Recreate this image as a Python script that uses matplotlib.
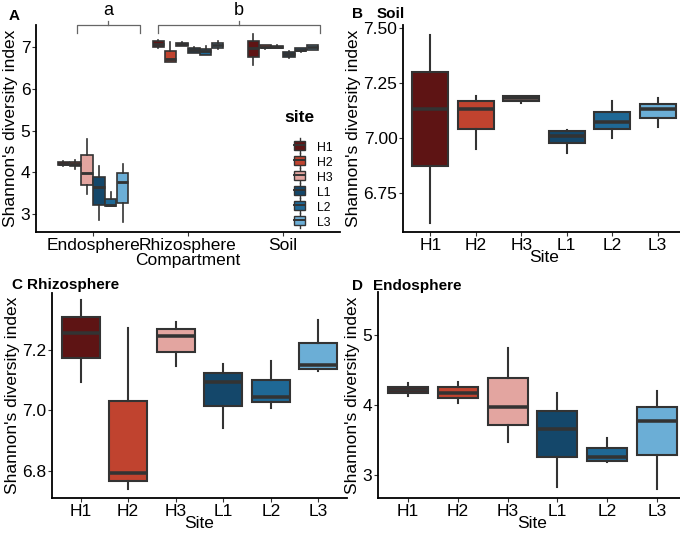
import matplotlib
matplotlib.use("Agg")
import matplotlib.pyplot as plt
from matplotlib.legend_handler import HandlerBase
from matplotlib.lines import Line2D
from matplotlib.patches import Rectangle, Patch

plt.rcParams['font.family'] = ['Liberation Sans', 'DejaVu Sans']

# -----------------------------
# data: box stats per site  (whisker low, q1, median, q3, whisker high)
# -----------------------------
sites = ["H1", "H2", "H3", "L1", "L2", "L3"]
site_colors = ["#5E1414", "#C0432F", "#E3A5A0", "#14476A", "#1F6895", "#6BAED6"]
compartments = ["Endosphere", "Rhizosphere", "Soil"]

# panel A (all compartments)
a_endo = [[4.15, 4.18, 4.21, 4.25, 4.28],
          [4.08, 4.15, 4.20, 4.25, 4.30],
          [3.48, 3.69, 3.98, 4.41, 4.80],
          [2.86, 3.22, 3.65, 3.89, 4.15],
          [3.19, 3.19, 3.22, 3.36, 3.53],
          [2.81, 3.26, 3.77, 3.98, 4.19]]
a_rhizo = [[6.97, 7.01, 7.08, 7.15, 7.17],
           [6.64, 6.65, 6.72, 6.91, 7.13],
           [7.02, 7.03, 7.07, 7.11, 7.12],
           [6.85, 6.87, 6.93, 6.99, 7.00],
           [6.80, 6.82, 6.90, 6.95, 7.02],
           [6.96, 6.97, 7.04, 7.10, 7.14]]
a_soil = [[6.57, 6.77, 6.97, 7.15, 7.31],
          [6.95, 6.97, 7.00, 7.05, 7.06],
          [6.97, 6.98, 7.00, 7.03, 7.04],
          [6.73, 6.77, 6.83, 6.89, 6.90],
          [6.89, 6.90, 6.94, 6.97, 6.98],
          [6.93, 6.94, 7.00, 7.05, 7.05]]

# panel B: Soil
soil = [[6.61, 6.87, 7.13, 7.30, 7.47],
        [6.95, 7.04, 7.13, 7.17, 7.19],
        [7.16, 7.17, 7.18, 7.19, 7.19],
        [6.93, 6.975, 7.01, 7.03, 7.035],
        [7.00, 7.04, 7.07, 7.117, 7.167],
        [7.05, 7.09, 7.13, 7.155, 7.18]]

# panel C: Rhizosphere
rhizo = [[7.094, 7.173, 7.253, 7.307, 7.364],
         [6.742, 6.767, 6.794, 7.032, 7.271],
         [7.145, 7.192, 7.244, 7.266, 7.290],
         [6.942, 7.016, 7.093, 7.123, 7.152],
         [7.008, 7.026, 7.043, 7.101, 7.161],
         [7.131, 7.137, 7.148, 7.222, 7.298]]

# panel D: Endosphere
endo = [[4.13, 4.18, 4.21, 4.26, 4.31],
        [4.03, 4.10, 4.18, 4.26, 4.33],
        [3.47, 3.71, 3.98, 4.39, 4.82],
        [2.83, 3.25, 3.66, 3.92, 4.18],
        [3.19, 3.20, 3.25, 3.38, 3.53],
        [2.80, 3.28, 3.77, 3.98, 4.20]]

EDGE = "#333333"
W, H = 680, 535
fig = plt.figure(figsize=(6.8, 5.35), dpi=100)


def px_axes(left, top, right, bottom):
    return fig.add_axes([left / W, 1 - bottom / H, (right - left) / W, (bottom - top) / H])


def to_stats(rows):
    return [dict(whislo=r[0], q1=r[1], med=r[2], q3=r[3], whishi=r[4], fliers=[]) for r in rows]


def draw_boxes(ax, rows, positions, width, lw=1.5):
    b = ax.bxp(to_stats(rows), positions=positions, widths=width, patch_artist=True,
               showcaps=False, showfliers=False, manage_ticks=False,
               boxprops=dict(edgecolor=EDGE, linewidth=lw),
               whiskerprops=dict(color=EDGE, linewidth=lw),
               medianprops=dict(color=EDGE, linewidth=lw * 1.7, solid_capstyle='butt'))
    for patch, c in zip(b['boxes'], site_colors):
        patch.set_facecolor(c)


def style(ax):
    for s in ["top", "right"]:
        ax.spines[s].set_visible(False)
    for s in ["left", "bottom"]:
        ax.spines[s].set_linewidth(1.3)
        ax.spines[s].set_color("black")
    ax.tick_params(labelsize=12.5, length=3, width=0.8, color=EDGE, pad=1)
    ax.set_ylabel("Shannon's diversity index", fontsize=12.5, labelpad=2)


# -----------------------------
# A. all compartments
# -----------------------------
axA = px_axes(36, 25, 340, 232)
bw = 0.125
for g, rows in enumerate([a_endo, a_rhizo, a_soil]):
    pos = [g + 1 + (j - 2.5) * bw for j in range(6)]
    draw_boxes(axA, rows, pos, bw * 0.95, lw=1.2)
axA.set_xlim(0.4, 3.6)
axA.set_ylim(2.57, 7.53)
axA.set_xticks([1, 2, 3])
axA.set_xticklabels(compartments)
axA.set_yticks([3, 4, 5, 6, 7])
style(axA)
axA.set_xlabel("Compartment", fontsize=12.5, labelpad=0)

# significance brackets
br_y, br_tick, br_top = 7.53, 7.34, 7.62
for x0, x1, lab in [(0.83, 1.49, "a"), (1.68, 3.39, "b")]:
    xm = (x0 + x1) / 2
    axA.plot([x0, x0, x1, x1], [br_tick, br_y, br_y, br_tick], color="#666666", lw=0.9, clip_on=False)
    axA.plot([xm, xm], [br_y, br_top], color="#666666", lw=0.9, clip_on=False)
    axA.text(xm, br_top + 0.05, lab, ha="center", va="bottom", fontsize=13)


class BoxKey(HandlerBase):
    def create_artists(self, legend, orig, xd, yd, w, h, fs, trans):
        cx = xd + w / 2
        v = Line2D([cx, cx], [yd - h * 0.25, yd + h * 1.25], color=EDGE, lw=1.0, transform=trans)
        r = Rectangle((xd + w * 0.1, yd + h * 0.05), w * 0.8, h * 0.9, facecolor=orig.get_facecolor(),
                      edgecolor=EDGE, lw=1.0, transform=trans)
        m = Line2D([xd + w * 0.1, xd + w * 0.9], [yd + h / 2] * 2, color=EDGE, lw=1.4, transform=trans)
        return [v, r, m]


handles = [Patch(facecolor=c) for c in site_colors]
leg = axA.legend(handles, sites, loc="upper left", bbox_to_anchor=(282 / W, 1 - 131 / H),
                 bbox_transform=fig.transFigure, frameon=False, fontsize=8.8,
                 handlelength=1.1, handleheight=0.9, labelspacing=0.22, handletextpad=0.9,
                 handler_map={Patch: BoxKey()})
fig.text(284 / W, 1 - 117 / H, "site", fontsize=12.5, fontweight="bold", va="center")

# -----------------------------
# B / C / D single compartment panels
# -----------------------------
xpos = list(range(1, 7))


def site_panel(ax, rows, ylim, yticks, yticklabels):
    draw_boxes(ax, rows, xpos, 0.8)
    ax.set_xlim(0.4, 6.6)
    ax.set_ylim(*ylim)
    ax.set_xticks(xpos)
    ax.set_xticklabels(sites)
    ax.set_yticks(yticks)
    ax.set_yticklabels(yticklabels)
    style(ax)
    ax.set_xlabel("Site", fontsize=12.5, labelpad=-2)


axB = px_axes(403, 25, 685, 232)
site_panel(axB, soil, (6.57, 7.515), [6.75, 7.0, 7.25, 7.5], ["6.75", "7.00", "7.25", "7.50"])

axC = px_axes(52, 293, 347, 498)
site_panel(axC, rhizo, (6.712, 7.386), [6.8, 7.0, 7.2], ["6.8", "7.0", "7.2"])

axD = px_axes(378, 292, 687, 498)
site_panel(axD, endo, (2.67, 5.62), [3, 4, 5], ["3", "4", "5"])

# panel letters and titles
for x, y, letter, title, tx in [(9, 20, "A", "", 0), (352, 18, "B", "Soil", 377),
                                 (11, 289, "C", "Rhizosphere", 27), (352, 290, "D", "Endosphere", 373)]:
    fig.text(x / W, 1 - y / H, letter, fontsize=11, fontweight="bold", va="baseline")
    if title:
        fig.text(tx / W, 1 - y / H, title, fontsize=11, fontweight="bold", va="baseline")

fig.savefig("out.png", dpi=100)
